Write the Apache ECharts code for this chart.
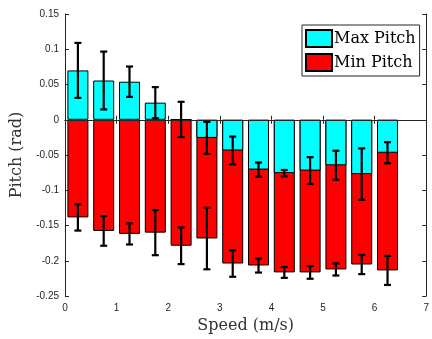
<!DOCTYPE html>
<html><head><meta charset="utf-8">
<script src="https://cdn.jsdelivr.net/npm/echarts@6/dist/echarts.min.js"></script>
<style>html,body{margin:0;padding:0;background:#fff}#c{width:432px;height:339px}</style>
</head><body><div id="c"></div>
<script>
var speeds = [0.25, 0.75, 1.25, 1.75, 2.25, 2.75, 3.25, 3.75, 4.25, 4.75, 5.25, 5.75, 6.25];
var maxPitch = [0.070, 0.0557, 0.054, 0.0243, 0.0005, -0.0257, -0.0435, -0.0706, -0.0757, -0.072, -0.0645, -0.077, -0.0467];
var maxErr = [0.039, 0.041, 0.0215, 0.022, 0.025, 0.0227, 0.0197, 0.010, 0.0045, 0.019, 0.0206, 0.0365, 0.015];
var minPitch = [-0.1384, -0.1576, -0.1618, -0.160, -0.1786, -0.1683, -0.2038, -0.2066, -0.2164, -0.2164, -0.2122, -0.2052, -0.2136];
var minErr = [0.0187, 0.021, 0.015, 0.032, 0.026, 0.0437, 0.0188, 0.010, 0.0077, 0.009, 0.0086, 0.0136, 0.0206];
var xTicks = [0, 1, 2, 3, 4, 5, 6, 7];
var yTicks = [-0.25, -0.2, -0.15, -0.1, -0.05, 0, 0.05, 0.1, 0.15];

var axisColor = '#262626';
var serif = 'DejaVu Serif, Liberation Serif, serif';
function pairs(vals){ return speeds.map(function(s,i){ return [s, vals[i]]; }); }
function errData(vals, errs){ return speeds.map(function(s,i){ return [s, vals[i], errs[i]]; }); }
function renderErr(params, api){
  var x = api.value(0), y = api.value(1), e = api.value(2);
  var top = api.coord([x, y + e]);
  var bot = api.coord([x, y - e]);
  var cw = 3.5;
  var st = {stroke:'#000', lineWidth:2.2};
  return {type:'group', children:[
    {type:'line', shape:{x1:top[0], y1:top[1], x2:bot[0], y2:bot[1]}, style:st},
    {type:'line', shape:{x1:top[0]-cw, y1:top[1], x2:top[0]+cw, y2:top[1]}, style:st},
    {type:'line', shape:{x1:bot[0]-cw, y1:bot[1], x2:bot[0]+cw, y2:bot[1]}, style:st}
  ]};
}
var chart = echarts.init(document.getElementById('c'));
var labelFont = {color: axisColor, fontFamily: 'Liberation Sans, Arial, sans-serif', fontSize: 10};
chart.setOption({
  animation: false,
  grid: {left: 65, right: 3, top: 14, bottom: 40},
  legend: {
    data: ['Max Pitch', 'Min Pitch'],
    orient: 'vertical', left: 302, top: 25,
    itemWidth: 26, itemHeight: 17, itemGap: 5,
    padding: [4, 4, 4, 3],
    backgroundColor: '#fff', borderColor: axisColor, borderWidth: 1,
    textStyle: {fontFamily: serif, fontSize: 16, color: '#000', padding: [0,0,0,-3]},
    icon: 'rect'
  },
  xAxis: [{
    type: 'value', min: 0, max: 7, interval: 1,
    name: 'Speed (m/s)', nameLocation: 'middle', nameGap: 21,
    nameTextStyle: {fontFamily: serif, fontSize: 16, color: '#333'},
    axisLine: {show: true, lineStyle: {color: axisColor}},
    axisTick: {inside: true, length: 4, lineStyle: {color: axisColor}},
    axisLabel: Object.assign({margin: 7}, labelFont),
    splitLine: {show: false}
  }, {
    type: 'value', min: 0, max: 7, interval: 1, position: 'top',
    axisLine: {show: true, lineStyle: {color: axisColor}},
    axisTick: {inside: true, length: 4, lineStyle: {color: axisColor}},
    axisLabel: {show: false}, splitLine: {show: false}
  }],
  yAxis: [{
    type: 'value', min: -0.25, max: 0.15, interval: 0.05,
    name: 'Pitch (rad)', nameLocation: 'middle', nameGap: 40,
    nameTextStyle: {fontFamily: serif, fontSize: 16, color: '#333'},
    axisLine: {show: true, onZero: false, lineStyle: {color: axisColor}},
    axisTick: {inside: true, length: 4, lineStyle: {color: axisColor}},
    axisLabel: Object.assign({margin: 6, formatter: function(v){ return String(Math.round(v*100)/100); }}, labelFont),
    splitLine: {show: false}
  }, {
    type: 'value', min: -0.25, max: 0.15, interval: 0.05, position: 'right',
    axisLine: {show: true, onZero: false, lineStyle: {color: axisColor}},
    axisTick: {inside: true, length: 4, lineStyle: {color: axisColor}},
    axisLabel: {show: false}, splitLine: {show: false}
  }],
  series: [
    {
      name: 'Min Pitch', type: 'bar', data: pairs(minPitch), barWidth: 21, barGap: '-100%',
      itemStyle: {color: '#ff0000', borderColor: '#000', borderWidth: 1},
      markLine: {silent: true, symbol: 'none', label: {show: false},
        lineStyle: {color: '#262626', type: 'solid', width: 1}, data: [{yAxis: 0}], z: 5}
    },
    {
      name: 'Max Pitch', type: 'bar', data: pairs(maxPitch), barWidth: 21, barGap: '-100%',
      itemStyle: {color: '#00ffff', borderColor: '#000', borderWidth: 1}
    },
    {type: 'custom', renderItem: renderErr, data: errData(maxPitch, maxErr), z: 10},
    {type: 'custom', renderItem: renderErr, data: errData(minPitch, minErr), z: 10}
  ]
});
</script></body></html>
